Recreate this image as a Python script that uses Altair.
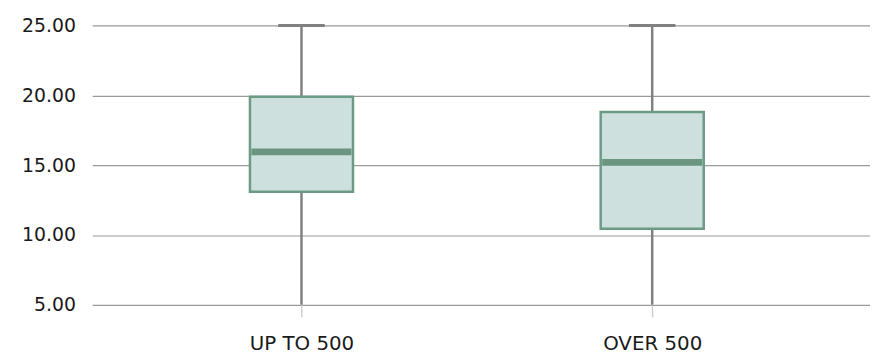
import altair as alt
import pandas as pd

categories = ["UP TO 500", "OVER 500"]
mins = [5.0, 5.0]
q1s = [13.1, 10.45]
medians = [15.95, 15.2]
q3s = [19.9, 18.8]
maxs = [25.0, 25.0]
y_ticks = [5, 10, 15, 20, 25]

df = pd.DataFrame({"cat": categories, "lo": mins, "q1": q1s, "med": medians, "q3": q3s, "hi": maxs})

FONT = "DejaVu Sans"

x = alt.X("cat:N", sort=categories, title=None,
          scale=alt.Scale(type="point", padding=0.6088, align=0.49),
          axis=alt.Axis(labelAngle=0, domain=False, ticks=True, tickSize=12, tickWidth=1.5,
                        tickColor="#d0d0d0", labelPadding=17, grid=False,
                        labelFont=FONT, labelFontSize=20, labelColor="#1a1a1a"))
yscale = alt.Scale(domain=[5, 25], nice=False, zero=False)
yaxis = alt.Axis(values=y_ticks, format=".2f", domain=False, ticks=False, labelPadding=17,
                 grid=True, gridColor="#9a9a9a", gridWidth=1.2,
                 labelFont=FONT, labelFontSize=19, labelColor="#1a1a1a")

base = alt.Chart(df)

whisker = base.mark_rule(color="#808080", strokeWidth=2.5).encode(
    x=x, y=alt.Y("lo:Q", scale=yscale, axis=yaxis, title=None), y2="hi:Q")
box = base.mark_bar(size=104, fill="#cde0de", stroke="#6b9a85", strokeWidth=2.5).encode(
    x=x, y=alt.Y("q1:Q", scale=yscale), y2="q3:Q")
median = base.mark_tick(orient="horizontal", size=101, thickness=7, color="#6a9580", opacity=1).encode(
    x=x, y=alt.Y("med:Q", scale=yscale))
cap = base.mark_tick(orient="horizontal", size=47, thickness=3, color="#808080", opacity=1).encode(
    x=x, y=alt.Y("hi:Q", scale=yscale))

chart = alt.layer(whisker, box, median, cap).properties(
    width=785, height=282,
    autosize=alt.AutoSizeParams(type="none"),
    padding={"left": 85, "top": 16, "right": 0, "bottom": 48},
).configure_view(stroke=None)

chart.save("out.html", embed_options={"renderer": "svg", "actions": False})
